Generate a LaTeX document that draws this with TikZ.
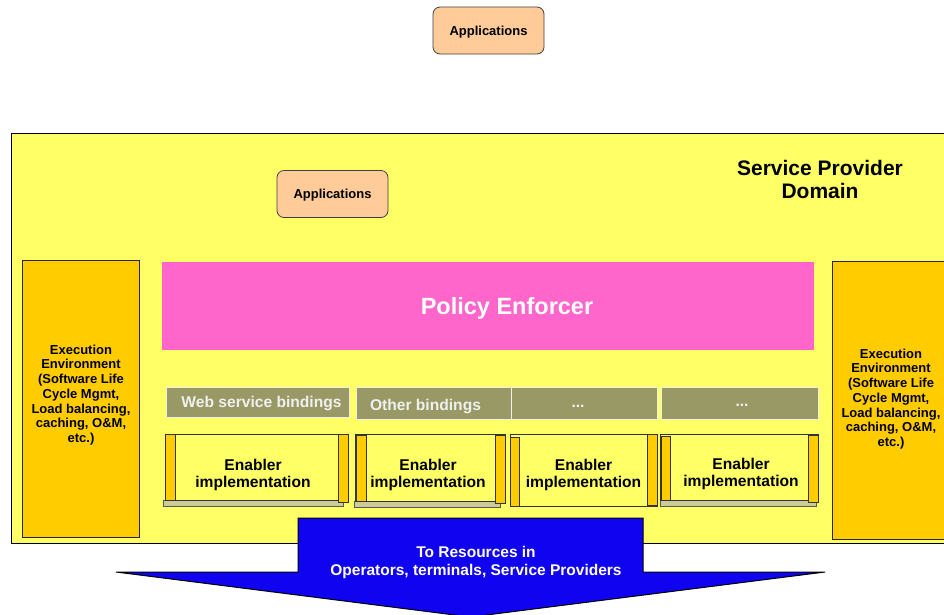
\documentclass[tikz,border=0pt]{standalone}
\usepackage{fontspec}
\setmainfont{Liberation Sans}
\definecolor{bgyellow}{RGB}{255,255,102}
\definecolor{execc}{RGB}{255,204,0}
\definecolor{appc}{RGB}{255,204,153}
\definecolor{policyc}{RGB}{255,102,204}
\definecolor{bindc}{RGB}{153,153,102}
\definecolor{barc}{RGB}{204,204,153}
\definecolor{arrowc}{RGB}{16,4,240}
\tikzset{
  appbox/.style={draw=black!75, fill=appc, rounded corners=7pt, line width=0.8pt,
    minimum width=111pt, minimum height=47pt, inner sep=0pt, text depth=0pt,
    font=\fontsize{13}{15}\selectfont\bfseries},
  execbox/.style={draw=black!85, fill=execc, line width=1pt},
  exectext/.style={align=center, inner sep=0pt, font=\fontsize{13}{14.7}\selectfont\bfseries},
  bindbox/.style={draw=white!85!bindc, fill=bindc, line width=0.8pt},
  bindtext/.style={inner sep=0pt, text=white!94!black, font=\fontsize{15.6}{18}\selectfont\bfseries},
  enbox/.style={draw=black!80, fill=bgyellow, line width=1pt},
  enbar/.style={draw=black!80, fill=execc, line width=0.8pt},
  engray/.style={draw=black!65, fill=barc, line width=0.8pt},
  entext/.style={align=center, inner sep=0pt, font=\fontsize{15.6}{17}\selectfont\bfseries},
}
\begin{document}
\begin{tikzpicture}[x=1pt,y=-1pt]
\useasboundingbox (0,0) rectangle (944,614);
\clip (0,0) rectangle (944,614);
\fill[white] (0,0) rectangle (944,614);

% top applications
\node[appbox] (apptop) at (488.5,30.5) {Applications};

% service provider domain
\draw[fill=bgyellow, draw=black, line width=0.8pt] (11,133) rectangle (960,543);
\node[align=center, inner sep=0pt, font=\fontsize{21}{23.5}\selectfont\bfseries] (spd) at (820,179.5) {Service Provider\\ Domain};

\node[appbox] (appin) at (332.5,194) {Applications};

% execution environments
\draw[execbox] (22,260) rectangle (139,537);
\node[exectext] (execl) at (81,395) {Execution\\ Environment\\ (Software Life\\ Cycle Mgmt,\\ Load balancing,\\ caching, O\&M,\\ etc.)};
\draw[execbox] (832,261) rectangle (960,539);
\node[exectext] (execr) at (891,399) {Execution\\ Environment\\ (Software Life\\ Cycle Mgmt,\\ Load balancing,\\ caching, O\&M,\\ etc.)};

% policy enforcer
\fill[policyc] (162,262) rectangle (814,350);
\node[inner sep=0pt, text=white, font=\fontsize{23.5}{27}\selectfont\bfseries] (policy) at (507,308.5) {Policy Enforcer};

% bindings
\draw[bindbox] (166,387) rectangle (349,417);
\node[bindtext] (bweb) at (261.5,403.5) {Web service bindings};
\draw[bindbox] (356,387) rectangle (511,419);
\node[bindtext] (bother) at (425.5,406) {Other bindings};
\draw[bindbox] (511,387) rectangle (657,419);
\node[bindtext] (bdots1) at (578,406) {...};
\draw[bindbox] (661,387) rectangle (818,419);
\node[bindtext] (bdots2) at (742,405) {...};

% enabler implementations
% box 1
\draw[engray] (163,500) rectangle (343,506);
\draw[enbox] (165,434) rectangle (348,500);
\draw[enbar] (165,434) rectangle (175,500);
\draw[enbar] (338,434) rectangle (348,502);
\node[entext] (en1) at (253,474.5) {Enabler\\ implementation};
% box 2
\draw[engray] (354,501) rectangle (500,507);
\draw[enbox] (355,434) rectangle (505,501);
\draw[enbar] (356,435) rectangle (366,501);
\draw[enbar] (495,435) rectangle (505,503);
\node[entext] (en2) at (428,474.5) {Enabler\\ implementation};
% box 3
\draw[enbox] (510,434) rectangle (657,506);
\draw[enbar] (510,437) rectangle (519,506);
\draw[enbar] (647,434) rectangle (657,505);
\node[entext] (en3) at (583.5,474.5) {Enabler\\ implementation};
% box 4
\draw[engray] (660,500) rectangle (816,506);
\draw[enbox] (660,434) rectangle (818,500);
\draw[enbar] (661,436) rectangle (670,500);
\draw[enbar] (808,435) rectangle (818,502);
\node[entext] (en4) at (741,474) {Enabler\\ implementation};

% arrow to resources
\draw[fill=arrowc, draw=black, line width=1pt, line join=miter]
  (298,518) -- (643,518) -- (643,572) -- (825,572) -- (470.5,617) -- (116,572) -- (298,572) -- cycle;
\node[align=center, inner sep=0pt, text=white, font=\fontsize{15.5}{18}\selectfont\bfseries] (res) at (476,562) {To Resources in\\ Operators, terminals, Service Providers};
\end{tikzpicture}
\end{document}
